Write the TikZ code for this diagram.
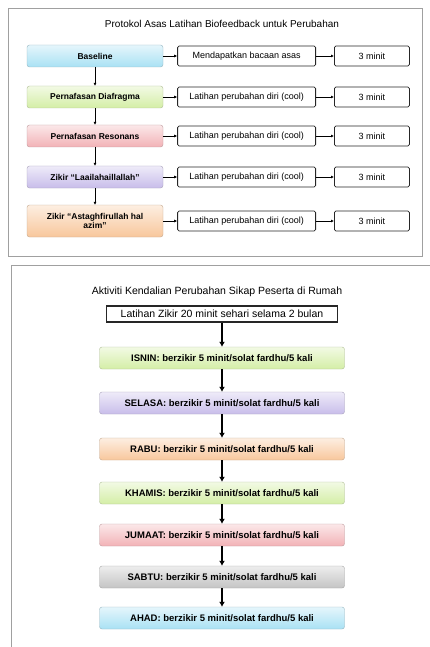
\documentclass[tikz,border=0pt]{standalone}
\usepackage{fontspec}
\setmainfont{Liberation Sans}
\usetikzlibrary{arrows.meta, positioning}
\definecolor{skyfill}{HTML}{A9E1F4}
\definecolor{limefill}{HTML}{D4EEA6}
\definecolor{rosefill}{HTML}{F2B2B6}
\definecolor{lilacfill}{HTML}{C8BDEA}
\definecolor{peachfill}{HTML}{F8C79C}
\definecolor{greyfill}{HTML}{C4C4C4}
\definecolor{panelgrey}{HTML}{A0A0A0}

\begin{document}
\begin{tikzpicture}[x=1pt,y=-1pt,
		flowbox/.style={draw=#1!55!gray, rounded corners=2.5pt, top color=#1!30!white, bottom color=#1, align=center},
		leftbox/.style={minimum width=136pt, minimum height=22pt, inner sep=1pt, font=\fontsize{8.5}{9.5}\selectfont\bfseries},
		plainbox/.style={draw=black!85, thick, rounded corners=1.5pt, fill=white, minimum height=20pt, inner sep=1pt, font=\fontsize{9}{10}\selectfont},
		linkarrow/.style={thick, -{Latex[length=3pt,width=3pt]}},
		dayarrow/.style={very thick, -{Latex[length=5pt,width=6pt]}}]
	
	\useasboundingbox (0,0) rectangle (429,647);
	
	% panel atas
	\draw[panelgrey] (8,8) rectangle (422,256);
	\node[font=\fontsize{10}{12}\selectfont] (tajukatas) at (222,24) {Protokol Asas Latihan Biofeedback untuk Perubahan};
	
	\node[flowbox=skyfill, leftbox] (baseline) at (95,56) {Baseline};
	\node[flowbox=limefill, leftbox] (diafragma) at (95,97) {Pernafasan Diafragma};
	\node[flowbox=rosefill, leftbox] (resonan) at (95,136) {Pernafasan Resonans};
	\node[flowbox=lilacfill, leftbox] (tahlil) at (95,177) {Zikir ``Laailahaillallah''};
	\node[flowbox=peachfill, leftbox, minimum height=32pt] (istighfar) at (95,221) {Zikir ``Astaghfirullah hal\\azim''};
	
	\node[plainbox, minimum width=138pt, right=14pt of baseline] (asas) {Mendapatkan bacaan asas};
	\node[plainbox, minimum width=138pt, right=14pt of diafragma] (latihana) {Latihan perubahan diri (cool)};
	\node[plainbox, minimum width=138pt, right=14pt of resonan] (latihanb) {Latihan perubahan diri (cool)};
	\node[plainbox, minimum width=138pt, right=14pt of tahlil] (latihanc) {Latihan perubahan diri (cool)};
	\node[plainbox, minimum width=138pt, right=14pt of istighfar] (latihand) {Latihan perubahan diri (cool)};
	
	\node[plainbox, minimum width=75pt, right=18pt of asas] (masaa) {3 minit};
	\node[plainbox, minimum width=75pt, right=18pt of latihana] (masab) {3 minit};
	\node[plainbox, minimum width=75pt, right=18pt of latihanb] (masac) {3 minit};
	\node[plainbox, minimum width=75pt, right=18pt of latihanc] (masad) {3 minit};
	\node[plainbox, minimum width=75pt, right=18pt of latihand] (masae) {3 minit};
	
	\foreach \a/\b in {baseline/diafragma, diafragma/resonan, resonan/tahlil, tahlil/istighfar,
		baseline/asas, diafragma/latihana, resonan/latihanb, tahlil/latihanc, istighfar/latihand,
		asas/masaa, latihana/masab, latihanb/masac, latihanc/masad, latihand/masae}
		\draw[linkarrow] (\a) -- (\b);
	
	% panel bawah
	\draw[panelgrey] (11,265) rectangle (440,660);
	\node[font=\fontsize{10.5}{12}\selectfont] (tajukbawah) at (217,292) {Aktiviti Kendalian Perubahan Sikap Peserta di Rumah};
	
	\node[draw=black!85, very thick, fill=white, minimum width=231pt, minimum height=16pt, inner sep=1pt, font=\fontsize{10.5}{12}\selectfont] (rancangan) at (222,314) {Latihan Zikir 20 minit sehari selama 2 bulan};
	
	\foreach \name/\hari/\warna/\ypos in {isnin/ISNIN/limefill/358, selasa/SELASA/lilacfill/403, rabu/RABU/peachfill/449, khamis/KHAMIS/limefill/493, jumaat/JUMAAT/rosefill/535, sabtu/SABTU/greyfill/577, ahad/AHAD/skyfill/618}
		\node[flowbox=\warna, minimum width=245pt, minimum height=22pt, inner sep=1pt, font=\fontsize{9.5}{11}\selectfont\bfseries] (\name) at (222,\ypos) {\hari: berzikir 5 minit/solat fardhu/5 kali};
	
	\foreach \a/\b in {rancangan/isnin, isnin/selasa, selasa/rabu, rabu/khamis, khamis/jumaat, jumaat/sabtu, sabtu/ahad}
		\draw[dayarrow] (\a) -- (\b);
	
\end{tikzpicture}
\end{document}
